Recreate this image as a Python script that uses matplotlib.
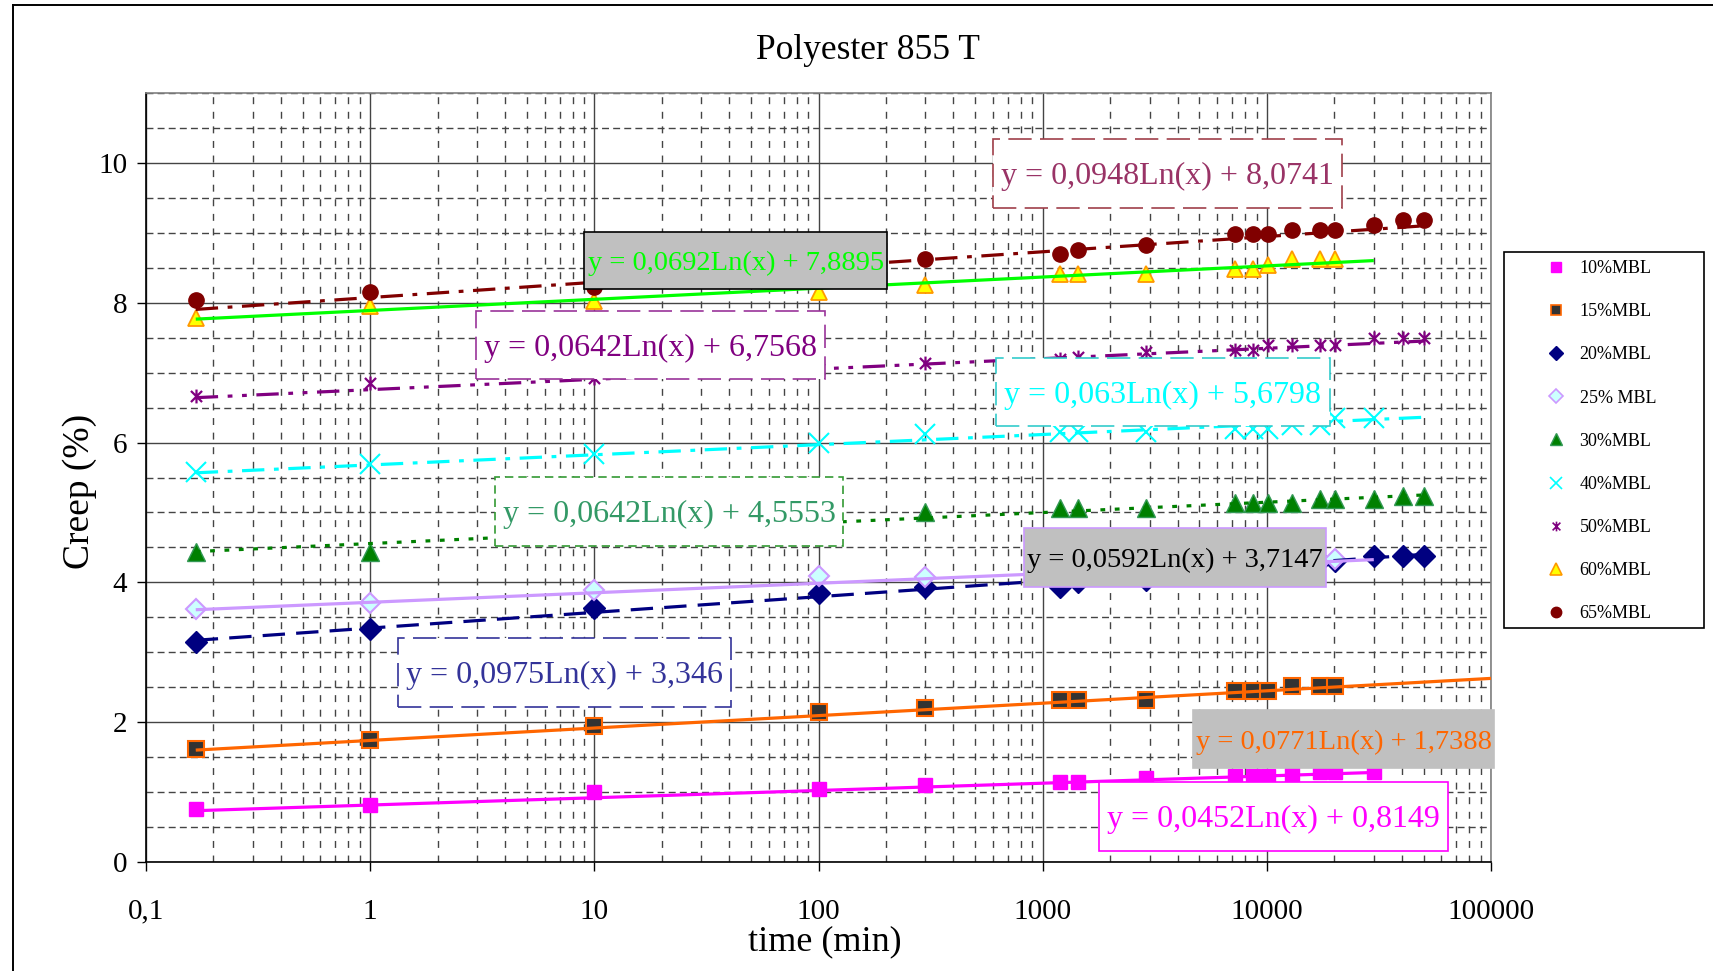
import numpy as np
import matplotlib
matplotlib.use('Agg')
import matplotlib.pyplot as plt
from matplotlib.lines import Line2D
from matplotlib.patches import Rectangle
from matplotlib.path import Path
import matplotlib.ticker as mticker

plt.rcParams['font.family'] = ['Liberation Serif', 'DejaVu Serif']

nan = np.nan

# ---------------- data ----------------
TITLE = 'Polyester 855 T'
XLABEL = 'time (min)'
YLABEL = 'Creep (%)'

TIME_MIN = [0.1667, 1, 10, 100, 300, 1200, 1440, 2880, 7200, 8640, 10080,
            12960, 17280, 20160, 30000, 40320, 50400]

SERIES = ['10%MBL', '15%MBL', '20%MBL', '25% MBL', '30%MBL', '40%MBL',
          '50%MBL', '60%MBL', '65%MBL']

creep_10 = [0.755, 0.82, 1.00, 1.04, 1.10, 1.15, 1.15, 1.20, 1.23, 1.23, 1.23,
            1.26, 1.29, 1.29, 1.29, nan, nan]
creep_15 = [1.61, 1.75, 1.95, 2.14, 2.21, 2.32, 2.32, 2.32, 2.45, 2.45, 2.45,
            2.52, 2.52, 2.52, nan, nan, nan]
creep_20 = [3.15, 3.34, 3.63, 3.85, 3.93, 3.93, 4.00, 4.03, 4.20, 4.20, 4.22,
            4.25, 4.30, 4.30, 4.37, 4.37, 4.37]
creep_25 = [3.62, 3.70, 3.89, 4.09, 4.07, 4.12, 4.14, 4.17, 4.22, 4.24, 4.25,
            4.28, 4.30, 4.33, nan, nan, nan]
creep_30 = [4.43, 4.43, 4.68, 4.85, 5.00, 5.07, 5.07, 5.07, 5.14, 5.14, 5.14,
            5.14, 5.19, 5.19, 5.19, 5.23, 5.23]
creep_40 = [5.58, 5.70, 5.83, 6.00, 6.12, 6.15, 6.15, 6.15, 6.19, 6.19, 6.19,
            6.25, 6.25, 6.35, 6.35, nan, nan]
creep_50 = [6.66, 6.85, 6.92, 7.05, 7.14, 7.20, 7.22, 7.30, 7.33, 7.33, 7.40,
            7.40, 7.40, 7.40, 7.49, 7.49, 7.49]
creep_60 = [7.78, 7.95, 8.03, 8.15, 8.25, 8.41, 8.41, 8.41, 8.48, 8.48, 8.54,
            8.62, 8.62, 8.62, nan, nan, nan]
creep_65 = [8.04, 8.16, 8.22, 8.45, 8.63, 8.70, 8.76, 8.83, 8.98, 8.98, 8.98,
            9.04, 9.04, 9.04, 9.11, 9.18, 9.18]

CREEP = [creep_10, creep_15, creep_20, creep_25, creep_30, creep_40,
         creep_50, creep_60, creep_65]

# logarithmic trendlines  y = a ln(x) + b
TREND_A = [0.0452, 0.0771, 0.0975, 0.0592, 0.0642, 0.063, 0.0642, 0.0692, 0.0948]
TREND_B = [0.8149, 1.7388, 3.346, 3.7147, 4.5553, 5.6798, 6.7568, 7.8895, 8.0741]
TREND_END = [30000, 100000, 50400, 30000, 50400, 50400, 50400, 30000, 50400]
EQ_LABELS = ['y = 0,0452Ln(x) + 0,8149', 'y = 0,0771Ln(x) + 1,7388',
             'y = 0,0975Ln(x) + 3,346', 'y = 0,0592Ln(x) + 3,7147',
             'y = 0,0642Ln(x) + 4,5553', 'y = 0,063Ln(x) + 5,6798',
             'y = 0,0642Ln(x) + 6,7568', 'y = 0,0692Ln(x) + 7,8895',
             'y = 0,0948Ln(x) + 8,0741']

XTICKS = [0.1, 1, 10, 100, 1000, 10000, 100000]
XTICK_LABELS = ['0,1', '1', '10', '100', '1000', '10000', '100000']
YTICKS = [0, 2, 4, 6, 8, 10]

# ---------------- styles ----------------
W, H = 1713, 971
star = Path([(0, -1), (0, 1), (-0.8, -0.8), (0.8, 0.8), (-0.8, 0.8), (0.8, -0.8)],
            [Path.MOVETO, Path.LINETO, Path.MOVETO, Path.LINETO, Path.MOVETO, Path.LINETO])

MARKERS = [
    dict(marker='s', ms=10, mfc='#FF00FF', mec='#FF00FF', mew=1),
    dict(marker='s', ms=11.5, mfc='#333333', mec='#FF6600', mew=1.5),
    dict(marker='D', ms=11, mfc='#000080', mec='#000080', mew=1),
    dict(marker='D', ms=10, mfc='#CCFFFF', mec='#CC99FF', mew=1.5),
    dict(marker='^', ms=12.5, mfc='#008000', mec='#339955', mew=1),
    dict(marker='x', ms=14, mfc='#00FFFF', mec='#00FFFF', mew=1.5),
    dict(marker=star, ms=10, mfc='#800080', mec='#800080', mew=1.6),
    dict(marker='^', ms=12, mfc='#FFFF00', mec='#FF9900', mew=1.3),
    dict(marker='o', ms=11, mfc='#800000', mec='#800000', mew=1),
]
LEG_MS = [7, 7, 7, 7, 8, 9, 7, 8, 7.5]

TREND_STYLE = [
    dict(color='#FF00FF', ls='-'),
    dict(color='#FF6600', ls='-'),
    dict(color='#000080', ls=(0, (7, 3.5))),
    dict(color='#CC99FF', ls='-'),
    dict(color='#008000', ls=(0, (1.5, 3))),
    dict(color='#00FFFF', ls=(0, (7, 3, 1.5, 3))),
    dict(color='#800080', ls=(0, (7, 3, 1.5, 3, 1.5, 3))),
    dict(color='#00FF00', ls='-'),
    dict(color='#800000', ls=(0, (7, 3, 1.5, 3))),
]

# label boxes: (x0, y0, x1, y1) in axes fraction, face, edge, edge style, text color, font size
BOXES = [
    ((0.7086, 0.0143, 0.9677, 0.1040), 'white', '#FF00FF', '-', '#FF00FF', 23),
    ((0.7784, 0.1222, 1.0026, 0.1977), '#C0C0C0', '#C0C0C0', '-', '#FF6600', 20.5),
    ((0.1871, 0.2016, 0.4349, 0.2913), 'white', '#333399', (0, (14, 5)), '#333399', 23),
    ((0.6526, 0.3580, 0.8773, 0.4347), '#C0C0C0', '#CC99FF', '-', 'black', 20.5),
    ((0.2595, 0.4109, 0.5182, 0.5007), 'white', '#339933', (0, (5, 3)), '#339966', 23),
    ((0.6320, 0.5670, 0.8800, 0.6554), 'white', '#33CCCC', (0, (14, 5)), '#00FFFF', 23),
    ((0.2454, 0.6281, 0.5048, 0.7165), 'white', '#993399', (0, (14, 5)), '#800080', 23),
    ((0.3260, 0.7445, 0.5510, 0.8198), '#C0C0C0', 'black', '-', '#00FF00', 20.5),
    ((0.6297, 0.8505, 0.8892, 0.9402), 'white', '#A0404A', (0, (14, 5)), '#993366', 23),
]

# ---------------- figure ----------------
fig = plt.figure(figsize=(W / 100, H / 100), dpi=100)
ax = fig.add_axes([146 / W, 1 - 862 / H, (1491 - 146) / W, (862 - 93) / H])
ax.set_xscale('log')
ax.set_xlim(0.1, 100000)
ax.set_ylim(0, 11)

ax.set_xticks(XTICKS)
ax.set_xticklabels(XTICK_LABELS)
ax.xaxis.set_minor_locator(mticker.LogLocator(base=10, subs=np.arange(2, 10)))
ax.xaxis.set_minor_formatter(mticker.NullFormatter())
ax.set_yticks(YTICKS)
ax.yaxis.set_minor_locator(mticker.MultipleLocator(0.5))

ax.tick_params(axis='both', which='major', direction='out', length=6.5, width=1,
               labelsize=21, color='black')
ax.tick_params(axis='x', which='major', pad=20)
ax.tick_params(axis='y', which='major', pad=7)
ax.tick_params(axis='both', which='minor', length=0)

ax.grid(True, which='major', axis='x', color='#444444', lw=1.0, ls='-', zorder=0)
ax.grid(True, which='minor', axis='x', color='#444444', lw=1.0, ls=(0, (5, 5.5)), zorder=0)
ax.grid(True, which='major', axis='y', color='#444444', lw=1.0, ls='-', zorder=0)
ax.grid(True, which='minor', axis='y', color='#444444', lw=1.0, ls=(0, (5, 3)), zorder=0)
ax.set_axisbelow(True)

for s in ['top', 'right']:
    ax.spines[s].set_color('#808080')
for s in ['left', 'bottom']:
    ax.spines[s].set_color('black')
for s in ax.spines.values():
    s.set_linewidth(1.2)

t = np.array(TIME_MIN)
for i, name in enumerate(SERIES):
    y = np.array(CREEP[i], dtype=float)
    ax.plot(t, y, ls='none', zorder=3, **MARKERS[i])
    xs = np.logspace(np.log10(TIME_MIN[0]), np.log10(TREND_END[i]), 300)
    ax.plot(xs, TREND_A[i] * np.log(xs) + TREND_B[i], lw=2.3, zorder=4,
            solid_capstyle='butt', dash_capstyle='butt', **TREND_STYLE[i])

for i, (bb, fc, ec, els, tc, fs) in enumerate(BOXES):
    x0, y0, x1, y1 = bb
    ax.add_patch(Rectangle((x0, y0), x1 - x0, y1 - y0, transform=ax.transAxes,
                           facecolor=fc, edgecolor=ec, lw=1.2, ls=els,
                           zorder=6, clip_on=False))
    ax.text((x0 + x1) / 2, (y0 + y1) / 2 - 0.004, EQ_LABELS[i], transform=ax.transAxes,
            ha='center', va='center', fontsize=fs, color=tc, zorder=7, clip_on=False)

# titles / axis labels
fig.text(868 / W, 1 - 50.5 / H, TITLE, ha='center', va='center', fontsize=25.5)
fig.text(825 / W, 1 - 942 / H, XLABEL, ha='center', va='center', fontsize=26)
fig.text(80 / W, 1 - 491 / H, YLABEL, ha='center', va='center', fontsize=27, rotation=90)

# legend
handles = []
for i, name in enumerate(SERIES):
    m = dict(MARKERS[i])
    m['ms'] = LEG_MS[i]
    m['mew'] = min(m['mew'], 1.2)
    handles.append(Line2D([], [], ls='none', **m))
fig.patches.append(Rectangle((1504 / W, 1 - 628 / H), 200 / W, 376 / H,
                             transform=fig.transFigure, facecolor='white',
                             edgecolor='black', lw=1.2, zorder=1))
leg = fig.legend(handles, SERIES, loc='upper left',
                 bbox_to_anchor=(1547 / W, 1 - 260 / H), frameon=False,
                 fontsize=13, handlelength=1.0, handletextpad=0.8,
                 labelspacing=1.45, borderpad=0, borderaxespad=0)

# outer chart border
fig.add_artist(Line2D([12.5 / W, 12.5 / W], [0, 1 - 4.7 / H], transform=fig.transFigure,
                      color='black', lw=1.4))
fig.add_artist(Line2D([12.5 / W, 1], [1 - 4.7 / H, 1 - 4.7 / H], transform=fig.transFigure,
                      color='black', lw=1.4))

fig.savefig('out.png', dpi=100)
